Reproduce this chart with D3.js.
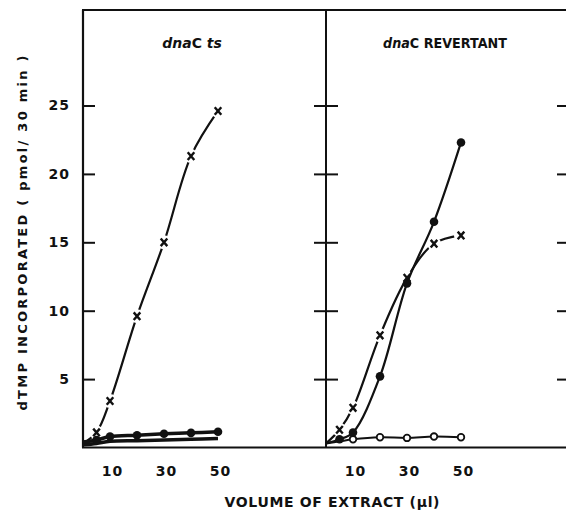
<!DOCTYPE html>
<html>
<head>
<meta charset="utf-8">
<script src="https://cdn.jsdelivr.net/npm/d3@7"></script>
<style>
  body { margin: 0; background: #fff; }
  text { font-family: "DejaVu Sans", sans-serif; font-weight: bold; fill: #111; }
</style>
</head>
<body>
<div id="chart"></div>
<script>
// volume of extract (ul)
var volumes = [0, 5, 10, 20, 30, 40, 50];

// dnaC ts panel
var tsCross = [0.3, 1.1, 3.4, 9.6, 15.0, 21.3, 24.6];
var tsFilled = [0.4, 0.55, 0.8, 0.9, 1.0, 1.07, 1.15];
var tsOpen = [0.2, 0.3, 0.45, 0.5, 0.55, 0.6, 0.65];

// dnaC revertant panel
var revCross = [0.3, 1.3, 2.9, 8.2, 12.4, 14.9, 15.5];
var revFilled = [0.3, 0.6, 1.1, 5.2, 12.0, 16.5, 22.3];
var revOpen = [0.3, 0.45, 0.6, 0.75, 0.7, 0.8, 0.75];

var yTicks = [5, 10, 15, 20, 25];
var xTicks = [10, 30, 50];

var width = 566, height = 510;
var ink = "#111";
var frameTop = 10;

var svg = d3.select("#chart").append("svg")
    .attr("width", width)
    .attr("height", height);

var y = d3.scaleLinear().domain([0, 25]).range([447.5, 105.5]);
var xLeft = d3.scaleLinear().domain([0, 90]).range([83, 326]);
var xRight = d3.scaleLinear().domain([0, 90]).range([326, 569]);

// frame
svg.append("line").attr("x1", xLeft(0)).attr("x2", xLeft(0)).attr("y1", frameTop).attr("y2", y(0))
    .attr("stroke", ink).attr("stroke-width", 2.2);
svg.append("line").attr("x1", xRight(0)).attr("x2", xRight(0)).attr("y1", frameTop).attr("y2", y(0))
    .attr("stroke", ink).attr("stroke-width", 2);
svg.append("line").attr("x1", xLeft(0) - 1).attr("x2", width).attr("y1", frameTop).attr("y2", frameTop)
    .attr("stroke", ink).attr("stroke-width", 2);
svg.append("line").attr("x1", xLeft(0) - 1).attr("x2", width).attr("y1", y(0)).attr("y2", y(0))
    .attr("stroke", ink).attr("stroke-width", 2.2);

// left y axis with inward ticks
var yAxis = svg.append("g")
    .attr("transform", "translate(" + xLeft(0) + ",0)")
    .call(d3.axisLeft(y).tickValues(yTicks).tickSize(-12).tickPadding(13));
yAxis.select(".domain").remove();
yAxis.selectAll(".tick line").attr("stroke", ink).attr("stroke-width", 2);
yAxis.selectAll(".tick text").style("font-size", "14px").attr("letter-spacing", 1).attr("fill", ink);

// ticks across the divider and at the right edge
[xRight(0), xRight(90)].forEach(function(px) {
    var g = svg.append("g")
        .attr("transform", "translate(" + (px - 12) + ",0)")
        .call(d3.axisRight(y).tickValues(yTicks).tickSize(24).tickFormat(""));
    g.select(".domain").remove();
    g.selectAll(".tick line").attr("stroke", ink).attr("stroke-width", 2);
});

// x tick labels per panel
[xLeft, xRight].forEach(function(xs) {
    var g = svg.append("g")
        .attr("transform", "translate(2," + y(0) + ")")
        .call(d3.axisBottom(xs).tickValues(xTicks).tickSize(0).tickPadding(19));
    g.select(".domain").remove();
    g.selectAll(".tick text").style("font-size", "14px").attr("letter-spacing", 1).attr("fill", ink);
});

function drawPanel(xs, cross, filled, open, openMarkers) {
    var pts = function(vals) {
        return vals.map(function(v, i) { return [xs(volumes[i]), y(v)]; });
    };
    var line = d3.line().curve(d3.curveCatmullRom.alpha(0.5));
    var g = svg.append("g");

    // cross series line, broken around its markers
    g.append("path").attr("d", line(pts(cross)))
        .attr("fill", "none").attr("stroke", ink).attr("stroke-width", 2.2);
    g.selectAll(".halo").data(pts(cross).slice(1)).enter().append("circle")
        .attr("cx", function(d) { return d[0]; })
        .attr("cy", function(d) { return d[1]; })
        .attr("r", 7).attr("fill", "#fff");

    g.append("path").attr("d", line(pts(open)))
        .attr("fill", "none").attr("stroke", ink).attr("stroke-width", openMarkers ? 2 : 3.5);
    g.append("path").attr("d", line(pts(filled)))
        .attr("fill", "none").attr("stroke", ink).attr("stroke-width", openMarkers ? 2.2 : 3.5);

    if (openMarkers) {
        g.selectAll(".open").data(pts(open).slice(2)).enter().append("circle")
            .attr("cx", function(d) { return d[0]; })
            .attr("cy", function(d) { return d[1]; })
            .attr("r", 3.3).attr("fill", "#fff").attr("stroke", ink).attr("stroke-width", 1.8);
    }

    g.selectAll(".dot").data(pts(filled).slice(1)).enter().append("circle")
        .attr("cx", function(d) { return d[0]; })
        .attr("cy", function(d) { return d[1]; })
        .attr("r", 4.3).attr("fill", ink);

    g.selectAll(".cross").data(pts(cross).slice(1)).enter().append("path")
        .attr("d", function(d) {
            var s = 3.3;
            return "M" + (d[0] - s) + "," + (d[1] - s - 0.5) + "L" + (d[0] + s) + "," + (d[1] + s + 0.5) +
                   "M" + (d[0] + s) + "," + (d[1] - s - 0.5) + "L" + (d[0] - s) + "," + (d[1] + s + 0.5);
        })
        .attr("stroke", ink).attr("stroke-width", 2.4).attr("fill", "none");
}

drawPanel(xLeft, tsCross, tsFilled, tsOpen, false);
drawPanel(xRight, revCross, revFilled, revOpen, true);

// panel titles
var t1 = svg.append("text").attr("x", 192).attr("y", 48).attr("text-anchor", "middle").style("font-size", "14px");
t1.append("tspan").style("font-style", "italic").text("dna");
t1.append("tspan").text("C ");
t1.append("tspan").style("font-style", "italic").text("ts");

var t2 = svg.append("text").attr("x", 445).attr("y", 48).attr("text-anchor", "middle")
    .attr("textLength", 124).attr("lengthAdjust", "spacingAndGlyphs").style("font-size", "14px");
t2.append("tspan").style("font-style", "italic").text("dna");
t2.append("tspan").text("C  REVERTANT");

// axis titles
svg.append("text")
    .attr("transform", "translate(27,233) rotate(-90)")
    .attr("text-anchor", "middle")
    .attr("textLength", 355).attr("lengthAdjust", "spacing")
    .style("font-size", "13px")
    .text("dTMP INCORPORATED ( pmol/ 30 min )");

svg.append("text")
    .attr("x", 332).attr("y", 507)
    .attr("text-anchor", "middle")
    .attr("textLength", 215).attr("lengthAdjust", "spacing")
    .style("font-size", "14px")
    .text("VOLUME OF EXTRACT (\u00b5l)");
</script>
</body>
</html>
